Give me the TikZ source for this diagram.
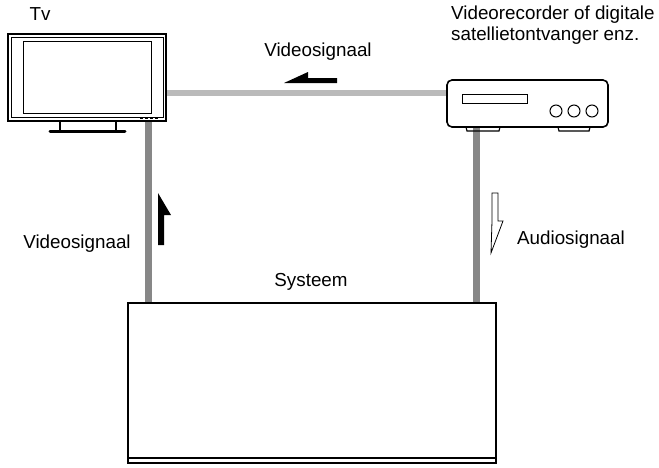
\documentclass[tikz,border=0pt]{standalone}
\usepackage{fontspec}
\setmainfont{Liberation Sans}
\begin{document}
\begin{tikzpicture}[x=1pt,y=-1pt,
  lbl/.style={font=\fontsize{18.8}{21}\selectfont, inner sep=0pt},
  dev/.style={draw=black, line width=1.6pt, fill=white},
  lightcable/.style={draw=black!27, line width=6pt},
  darkcable/.style={draw=black!47, line width=7pt}]
\useasboundingbox (0,0) rectangle (659,467);
% cables
\coordinate (tvR) at (166,93);
\coordinate (recL) at (447,93);
\draw[lightcable] (tvR) -- (recL);
\coordinate (tvB) at (148,120);
\coordinate (sysL) at (148,303);
\draw[darkcable] (tvB) -- (sysL);
\coordinate (recB) at (476,128);
\coordinate (sysR) at (476,303);
\draw[darkcable] (recB) -- (sysR);
% TV
\node[dev, minimum width=158pt, minimum height=87pt, inner sep=0pt] (tv) at (87,77.5) {};
\draw[line width=0.6pt] (11,37) rectangle (163,117);
\node[draw=black, line width=1pt, minimum width=128pt, minimum height=72pt, inner sep=0pt] (screen) at (87,77) {};
\draw[line width=1.2pt] (60,121) -- (60,130) (116,121) -- (116,130);
\draw[line width=3pt, line cap=round] (50,131.5) -- (125,131.5);
\foreach \x in {140,145,150,155} \draw[line width=0.8pt] (\x,118) -- (\x+3,118);
% recorder
\node[dev, rounded corners=5pt, minimum width=161pt, minimum height=47pt, inner sep=0pt] (rec) at (527.5,103.5) {};
\draw[line width=1pt] (462,94) rectangle (527,103);
\foreach \x in {556,574,592} \draw[line width=1pt] (\x,111) circle (6);
\draw[line width=1.2pt] (466,127) -- (467,131) -- (499,131) -- (500,127);
\draw[line width=1.2pt] (558,127) -- (559,131) -- (589,131) -- (590,127);
% system
\node[dev, minimum width=368pt, minimum height=155pt, inner sep=0pt] (sys) at (312,380.5) {};
\draw[line width=1.2pt] (128,458) -- (128,463) -- (496,463) -- (496,458);
% arrows
\fill[black] (337,78) -- (308,78) -- (308,72) -- (284,83) -- (337,83) -- cycle;
\fill[black] (158,245) -- (158,193) -- (171,215) -- (164,215) -- (164,245) -- cycle;
\draw[line width=0.8pt, fill=white] (492,193) -- (498,193) -- (498,221) -- (503,221) -- (491,253) -- (492,221) -- cycle;
% labels
\node[lbl] (ltv) at (40,14) {Tv};
\node[lbl] (lvid) at (318,52) {Videosignaal};
\node[lbl, align=left, anchor=west] (lrec) at (451,25) {Videorecorder of digitale\\satellietontvanger enz.};
\node[lbl] (lvid2) at (77,244) {Videosignaal};
\node[lbl] (laud) at (571,240) {Audiosignaal};
\node[lbl] (lsys) at (311,282) {Systeem};
\end{tikzpicture}
\end{document}
